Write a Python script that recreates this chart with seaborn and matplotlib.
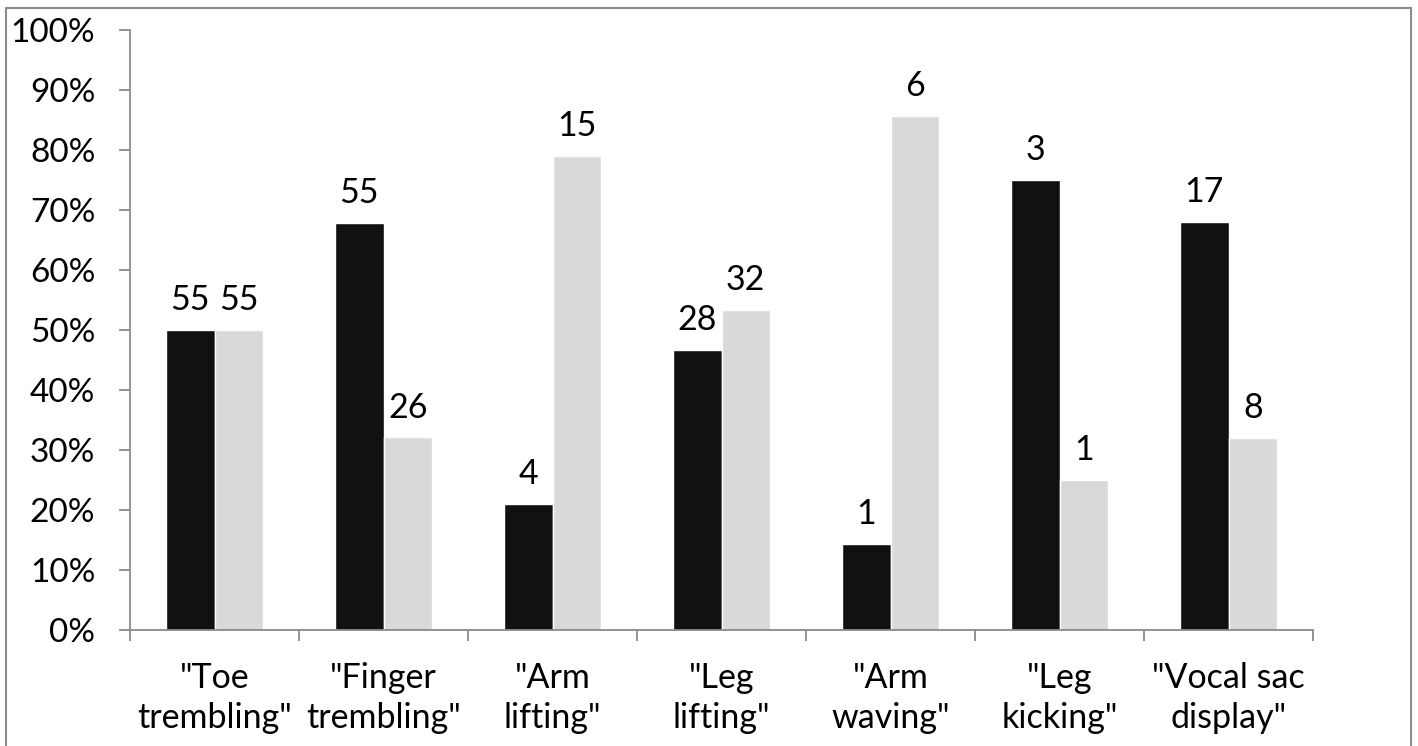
import pandas as pd
import numpy as np
import seaborn as sns
import matplotlib.pyplot as plt
from matplotlib.patches import Rectangle
from matplotlib.ticker import PercentFormatter, FixedLocator

categories = ['"Toe\ntrembling"', '"Finger\ntrembling"', '"Arm\nlifting"', '"Leg\nlifting"',
              '"Arm\nwaving"', '"Leg\nkicking"', '"Vocal sac\ndisplay"']
dark_counts = [55, 55, 4, 28, 1, 3, 17]
light_counts = [55, 26, 15, 32, 6, 1, 8]
series = ['Series 1', 'Series 2']

sns.set_theme(style="white")
plt.rcParams['font.family'] = ['Lato', 'DejaVu Sans']

rows = []
for cat, a, b in zip(categories, dark_counts, light_counts):
    total = a + b
    rows.append({'behaviour': cat, 'series': series[0], 'count': a, 'share': a / total})
    rows.append({'behaviour': cat, 'series': series[1], 'count': b, 'share': b / total})
df = pd.DataFrame(rows)

fig = plt.figure(figsize=(14.18, 7.46), dpi=100)
ax = fig.add_axes([130 / 1418, 1 - 630 / 746, 1183 / 1418, 600 / 746])

sns.barplot(data=df, x='behaviour', y='share', hue='series', order=categories, hue_order=series,
            palette={series[0]: '#111111', series[1]: '#d9d9d9'}, width=0.574,
            saturation=1, legend=False, ax=ax)

for container, counts in zip(ax.containers, [dark_counts, light_counts]):
    ax.bar_label(container, labels=[str(c) for c in counts], padding=10, fontsize=24.5, color='black')

ax.set_xlim(-0.5, len(categories) - 0.5)
ax.set_ylim(0, 1)
ax.set_yticks(np.arange(0, 1.01, 0.1))
ax.yaxis.set_major_formatter(PercentFormatter(1.0, decimals=0))
ax.set_xlabel('')
ax.set_ylabel('')

axis_grey = '#8a8a8a'
for side in ['top', 'right']:
    ax.spines[side].set_visible(False)
for side in ['left', 'bottom']:
    ax.spines[side].set_color(axis_grey)
    ax.spines[side].set_linewidth(1.3)

ax.tick_params(axis='y', which='major', direction='out', length=8, width=1.3, color=axis_grey,
               pad=17, labelsize=24, labelcolor='black', left=True)
ax.tick_params(axis='x', which='major', length=0, pad=23, labelsize=24.5, labelcolor='black')
ax.xaxis.set_minor_locator(FixedLocator(np.arange(-0.5, len(categories), 1.0)))
ax.tick_params(axis='x', which='minor', direction='out', length=8, width=1.3, color=axis_grey, bottom=True)
for lab in ax.get_xticklabels():
    lab.set_linespacing(1.3)

fig.patches.append(Rectangle((6 / 1418, -0.01), (1411 - 6) / 1418, (746 - 8) / 746 + 0.01,
                             transform=fig.transFigure, fill=False, edgecolor='#8c8c8c', linewidth=1.5))

fig.savefig('out.png', dpi=100)
